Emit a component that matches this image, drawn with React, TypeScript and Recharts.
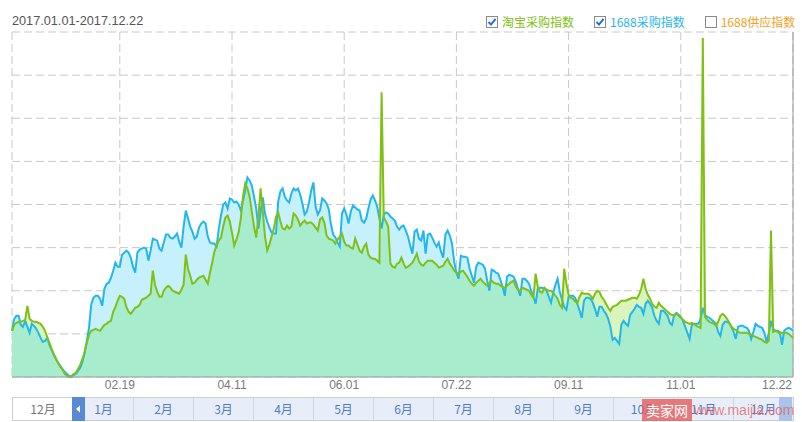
import React from 'react';
import { ComposedChart, Area, Line, XAxis, YAxis, CartesianGrid, ReferenceLine } from 'recharts';

// 淘宝采购指数 (green), daily 2017.01.01 - 2017.12.22
const taobaoIndex = [
  46, 52, 54, 55, 55, 56, 57, 71, 58, 56,
  55, 55, 54, 53, 50, 46, 40, 34, 28, 23,
  18, 14, 10, 7, 3, 1, 0, 1, 3, 4,
  8, 12, 18, 25, 34, 42, 46, 47, 48, 47,
  46, 49, 52, 53, 55, 56, 65, 70, 76, 81,
  80, 78, 70, 65, 63, 66, 69, 70, 72, 77,
  78, 79, 81, 83, 106, 92, 85, 80, 80, 86,
  89, 91, 89, 86, 85, 84, 83, 87, 92, 122,
  108, 101, 93, 94, 97, 99, 100, 101, 97, 93,
  104, 114, 125, 131, 136, 139, 150, 159, 161, 155,
  144, 131, 137, 144, 158, 180, 193, 188, 180, 165,
  150, 139, 160, 188, 165, 140, 126, 132, 140, 148,
  160, 164, 155, 148, 147, 151, 148, 150, 163, 161,
  157, 151, 154, 156, 153, 154, 154, 152, 149, 146,
  157, 159, 154, 141, 138, 137, 136, 133, 137, 140,
  143, 135, 131, 131, 129, 128, 138, 132, 126, 124,
  130, 133, 122, 119, 118, 118, 116, 114, 284, 159,
  155, 150, 113, 110, 109, 113, 114, 119, 113, 109,
  110, 112, 114, 118, 123, 115, 112, 111, 114, 116,
  116, 116, 114, 112, 109, 110, 111, 115, 118, 113,
  110, 106, 104, 103, 105, 106, 103, 100, 96, 93,
  91, 94, 96, 98, 95, 93, 91, 94, 96, 94,
  93, 93, 91, 90, 89, 91, 93, 95, 96, 90,
  87, 86, 89, 88, 87, 86, 82, 79, 103, 90,
  85, 84, 89, 87, 86, 86, 84, 81, 78, 72,
  69, 108, 93, 82, 79, 78, 75, 74, 80, 84,
  83, 83, 83, 81, 78, 83, 86, 85, 80, 77,
  73, 69, 66, 70, 71, 72, 74, 76, 76, 76,
  77, 78, 79, 79, 78, 82, 88, 98, 88, 82,
  78, 73, 70, 69, 74, 71, 69, 67, 65, 63,
  62, 61, 63, 61, 59, 57, 55, 54, 53, 54,
  53, 51, 50, 49, 338, 60, 57, 55, 54, 53,
  51, 55, 61, 63, 61, 58, 54, 50, 48, 47,
  45, 44, 44, 44, 44, 43, 42, 41, 40, 39,
  38, 37, 35, 34, 36, 146, 45, 46, 45, 43,
  44, 44, 44, 43, 41, 39,
];

// 1688采购指数 (blue)
const alibabaIndex = [
  46, 58, 61, 61, 52, 50, 56, 50, 44, 53,
  51, 48, 44, 39, 35, 36, 39, 32, 27, 22,
  18, 14, 11, 8, 5, 3, 1, 0, 2, 3,
  6, 9, 15, 24, 36, 49, 72, 79, 81, 81,
  78, 71, 88, 93, 94, 99, 106, 114, 110, 110,
  122, 124, 126, 124, 119, 110, 104, 124, 127, 128,
  129, 128, 116, 126, 138, 137, 136, 128, 126, 134,
  142, 142, 139, 138, 140, 143, 135, 129, 150, 166,
  158, 150, 145, 138, 140, 149, 153, 155, 153, 140,
  134, 133, 133, 130, 148, 161, 172, 174, 168, 178,
  177, 174, 175, 172, 166, 176, 186, 199, 196, 191,
  180, 168, 148, 165, 179, 163, 155, 149, 144, 143,
  143, 175, 185, 188, 180, 176, 174, 183, 188, 186,
  188, 182, 173, 162, 165, 174, 186, 194, 170, 162,
  166, 178, 176, 173, 167, 152, 142, 139, 134, 130,
  163, 168, 162, 153, 165, 171, 169, 167, 166, 156,
  154, 158, 168, 177, 181, 176, 170, 158, 148, 162,
  164, 163, 160, 158, 156, 150, 147, 150, 151, 146,
  140, 131, 123, 145, 147, 138, 136, 146, 123, 142,
  143, 139, 134, 130, 134, 125, 119, 142, 146, 141,
  133, 115, 104, 98, 121, 120, 120, 119, 108, 101,
  94, 110, 114, 113, 112, 108, 96, 86, 107, 106,
  104, 103, 97, 90, 81, 100, 102, 101, 100, 95,
  88, 81, 98, 98, 96, 93, 86, 80, 73, 88,
  89, 89, 88, 86, 80, 74, 84, 92, 98, 85,
  77, 70, 67, 80, 81, 81, 79, 73, 66, 59,
  76, 79, 79, 78, 74, 68, 60, 70, 70, 66,
  63, 58, 50, 37, 39, 36, 33, 52, 56, 53,
  51, 62, 65, 68, 72, 70, 69, 63, 73, 76,
  73, 69, 61, 56, 53, 66, 66, 64, 61, 54,
  52, 62, 64, 62, 60, 56, 50, 44, 38, 52,
  53, 53, 53, 58, 69, 62, 60, 59, 57, 55,
  53, 45, 41, 52, 55, 55, 54, 50, 45, 38,
  50, 51, 51, 50, 49, 46, 38, 45, 53, 51,
  50, 49, 44, 35, 44, 56, 48, 46, 46, 45,
  32, 46, 48, 49, 48, 46,
];

const tickLabels = ['02.19', '04.11', '06.01', '07.22', '09.11', '11.01', '12.22'];
const yTicks = [0, 43, 86, 129, 172, 215, 258, 301, 344];
const titleText = '2017.01.01-2017.12.22';
const prevMonthLabel = '12月';
const monthLabels = ['1月', '2月', '3月', '4月', '5月', '6月', '7月', '8月', '9月', '10月', '11月', '12月'];
const legendItems = [
  { label: '淘宝采购指数', color: '#80bd0f', checked: true },
  { label: '1688采购指数', color: '#2ab4ee', checked: true },
  { label: '1688供应指数', color: '#f5a01e', checked: false },
];
const watermarkBrand = '卖家网';
const watermarkUrl = 'www.maijia.com';

const startYear = 2017;

function buildDates(n: number): string[] {
  const out: string[] = [];
  const start = Date.UTC(startYear, 0, 1);
  for (let i = 0; i < n; i++) {
    const d = new Date(start + i * 86400000);
    const mm = String(d.getUTCMonth() + 1).padStart(2, '0');
    const dd = String(d.getUTCDate()).padStart(2, '0');
    out.push(`${mm}.${dd}`);
  }
  return out;
}

const dates = buildDates(taobaoIndex.length);
const data = dates.map((date, i) => ({
  date,
  taobao: taobaoIndex[i],
  ali: alibabaIndex[i],
  low: Math.min(taobaoIndex[i], alibabaIndex[i]),
}));

const FONT = '"Liberation Sans", Arial, sans-serif';
const CJK = '"Noto Sans CJK SC", "Liberation Sans", sans-serif';

const XTick = (props: any) => {
  const { x, payload } = props;
  const isLast = payload.value === tickLabels[tickLabels.length - 1];
  return (
    <text
      x={isLast ? x - 1 : x}
      y={389}
      textAnchor={isLast ? 'end' : 'middle'}
      fill="#7a7a7a"
      fontSize={12}
      fontFamily={FONT}
    >
      {payload.value}
    </text>
  );
};

const EmptyTick = () => <g />;

const CheckBox = ({ checked }: { checked: boolean }) => (
  <svg width={12} height={12} style={{ display: 'block' }}>
    <rect x={0.5} y={0.5} width={11} height={11} fill="#fff" stroke="#8a8a8a" />
    {checked && <path d="M2.5 6 L5 8.6 L9.6 2.8" fill="none" stroke="#1f6fe0" strokeWidth={2} />}
  </svg>
);

export default function App() {
  return (
    <div style={{ position: 'absolute', left: 0, top: 0, width: 802, height: 422, background: '#fff', overflow: 'hidden' }}>
      <ComposedChart width={802} height={422} data={data} margin={{ top: 32, right: 9, left: 12, bottom: 0 }}>
        <CartesianGrid stroke="#c8c8c8" strokeDasharray="8 4" horizontal={true} vertical={true} />
        <XAxis
          dataKey="date"
          ticks={tickLabels}
          interval={0}
          tickLine={false}
          axisLine={{ stroke: '#999' }}
          height={45}
          tick={<XTick />}
        />
        <YAxis
          domain={[0, 344]}
          ticks={yTicks}
          interval={0}
          width={0}
          tick={<EmptyTick />}
          tickLine={false}
          axisLine={{ stroke: '#999' }}
        />
        <Area type="linear" dataKey="ali" stroke="none" fill="#c6f0fc" fillOpacity={1} isAnimationActive={false} activeDot={false} />
        <Area type="linear" dataKey="taobao" stroke="none" fill="#daf5bb" fillOpacity={1} isAnimationActive={false} activeDot={false} />
        <Area type="linear" dataKey="low" stroke="none" fill="#a7edcd" fillOpacity={1} isAnimationActive={false} activeDot={false} />
        <ReferenceLine x={tickLabels[tickLabels.length - 1]} stroke="#999" />
        <Line type="linear" dataKey="ali" stroke="#22b6f1" strokeWidth={2} dot={false} activeDot={false} isAnimationActive={false} />
        <Line type="linear" dataKey="taobao" stroke="#80c014" strokeWidth={2} dot={false} activeDot={false} isAnimationActive={false} />
      </ComposedChart>

      <div style={{ position: 'absolute', left: 12, top: 13, fontFamily: FONT, fontSize: 12.7, color: '#555', lineHeight: '16px', whiteSpace: 'nowrap' }}>
        {titleText}
      </div>

      <div style={{ position: 'absolute', left: 486, top: 13, display: 'flex', alignItems: 'center', gap: 20, height: 18 }}>
        {legendItems.map((it) => (
          <div key={it.label} style={{ display: 'flex', alignItems: 'center', gap: 4 }}>
            <CheckBox checked={it.checked} />
            <span style={{ fontFamily: CJK, fontSize: 12, color: it.color, lineHeight: '18px', whiteSpace: 'nowrap' }}>{it.label}</span>
          </div>
        ))}
      </div>

      <div style={{ position: 'absolute', left: 12, top: 397, width: 782, height: 24, boxSizing: 'border-box', border: '1px solid #cfcfcf', display: 'flex', background: '#fff' }}>
        <div style={{ width: 60, flex: '0 0 60px', textAlign: 'center', fontFamily: CJK, fontSize: 12, color: '#777', lineHeight: '22px' }}>
          {prevMonthLabel}
        </div>
        {monthLabels.map((m) => (
          <div
            key={m}
            style={{
              width: 60,
              flex: '0 0 60px',
              boxSizing: 'border-box',
              borderLeft: '1px solid #cdd6e4',
              background: '#e7eefa',
              textAlign: 'center',
              fontFamily: CJK,
              fontSize: 12,
              color: '#4d7ccb',
              lineHeight: '22px',
            }}
          >
            {m}
          </div>
        ))}
        <div style={{ position: 'absolute', left: 59, top: -1, width: 13, height: 24, background: '#5a89d3' }}>
          <svg width={13} height={24} style={{ display: 'block' }}>
            <path d="M4 12 L8 8.5 L8 15.5 Z" fill="#fff" />
          </svg>
        </div>
        <div style={{ position: 'absolute', left: 766, top: -1, width: 13, height: 24, background: '#a9c3ea' }} />
      </div>

      <div style={{ position: 'absolute', left: 642, top: 399, width: 50, height: 22, background: 'rgba(228,88,88,0.78)', color: '#fff', fontFamily: CJK, fontSize: 14, lineHeight: '22px', textAlign: 'center' }}>
        {watermarkBrand}
      </div>
      <div style={{ position: 'absolute', left: 694, top: 399, height: 22, color: 'rgba(232,92,92,0.75)', fontFamily: FONT, fontSize: 14, lineHeight: '22px', whiteSpace: 'nowrap' }}>
        {watermarkUrl}
      </div>
    </div>
  );
}
